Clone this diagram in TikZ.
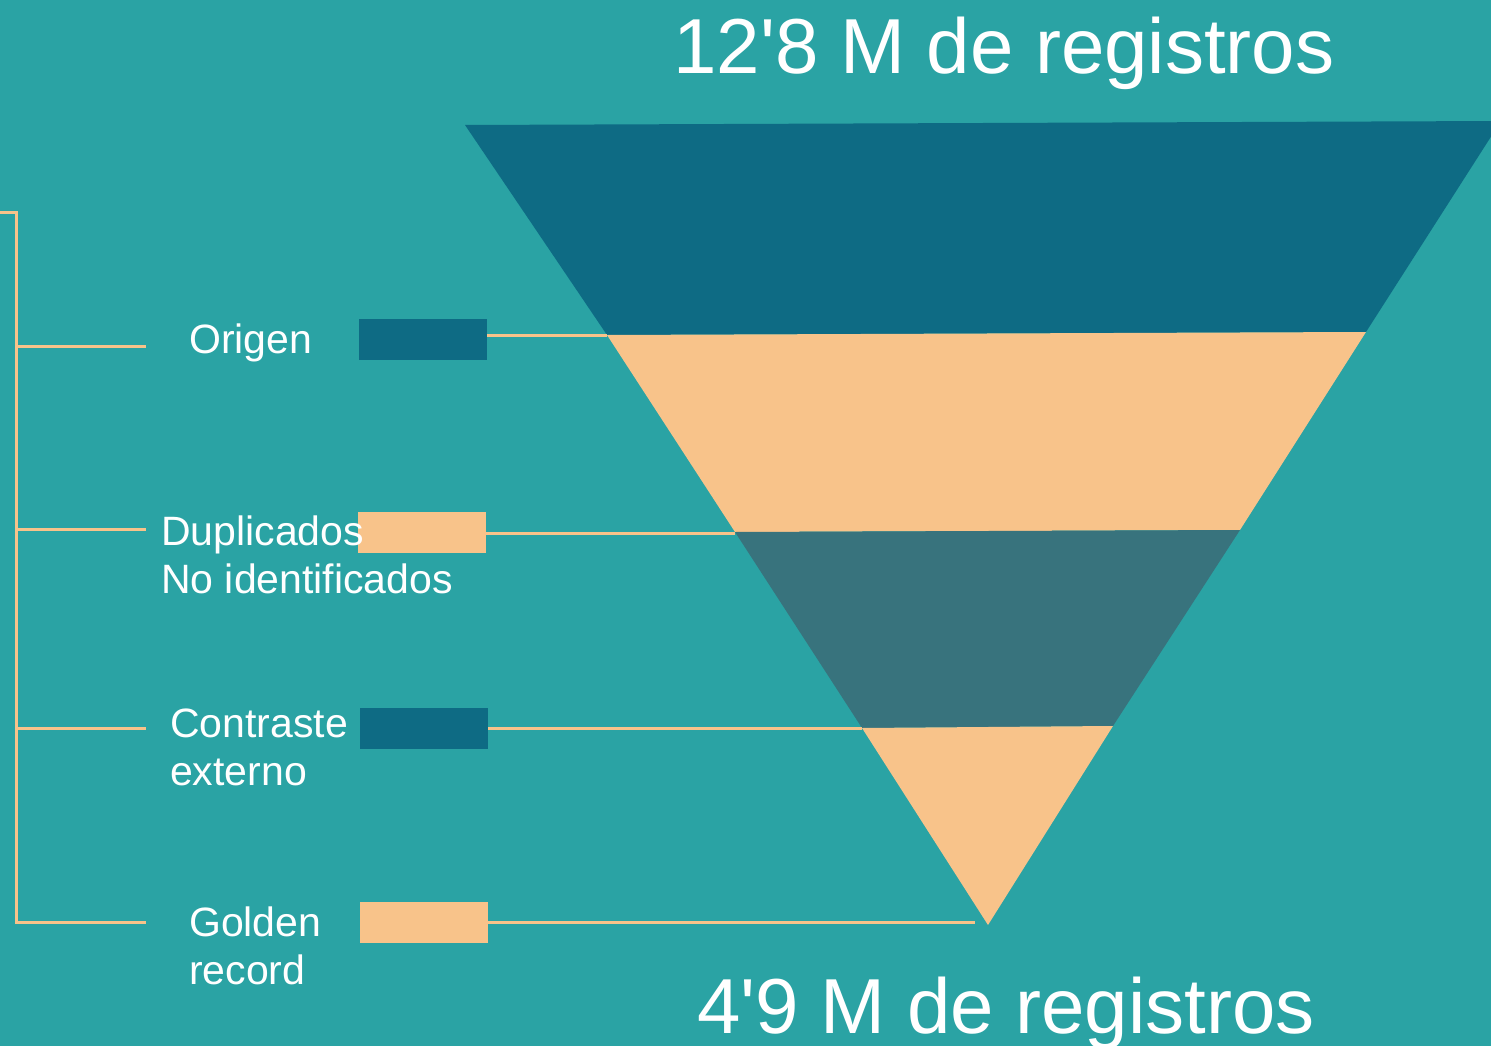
\documentclass[tikz,border=0pt]{standalone}
\usepackage{fontspec}
\setmainfont{Liberation Sans}
\definecolor{fondo}{HTML}{2AA3A4}
\definecolor{azul}{HTML}{0E6B84}
\definecolor{crema}{HTML}{F8C38A}
\definecolor{gris}{HTML}{38737D}
\tikzset{
  etiqueta/.style={text=white,font=\fontsize{41}{48}\selectfont,align=left,anchor=north west,inner sep=0pt},
  marca/.style={minimum width=128pt,minimum height=41pt,inner sep=0pt,anchor=north west},
  linea/.style={draw=crema,line width=3pt},
  titulo/.style={text=white,font=\fontsize{78}{90}\selectfont,inner sep=0pt,anchor=base}
}
\begin{document}
\begin{tikzpicture}[x=1pt,y=-1pt]
\useasboundingbox (0,0) rectangle (1491,1046);
\fill[fondo] (0,0) rectangle (1491,1046);
\begin{scope}
\clip (0,0) rectangle (1491,1046);
% embudo
\coordinate (L0) at (465,125); \coordinate (R0) at (1501,121);
\coordinate (L1) at (607,335); \coordinate (R1) at (1366,332);
\coordinate (L2) at (735,532); \coordinate (R2) at (1240,530);
\coordinate (L3) at (862,728); \coordinate (R3) at (1113,726);
\coordinate (A) at (988,925);
\fill[azul] (L0) -- (R0) -- (R1) -- (L1) -- cycle;
\fill[crema] (L1) -- (R1) -- (R2) -- (L2) -- cycle;
\fill[gris] (L2) -- (R2) -- (R3) -- (L3) -- cycle;
\fill[crema] (L3) -- (R3) -- (A) -- cycle;
\end{scope}
% titulos
\node[titulo] (arriba) at (1004,74) {12\textquotesingle 8 M de registros};
\node[titulo] (abajo) at (1006,1033) {4\textquotesingle 9 M de registros};
% marcas y etiquetas
\node[marca,fill=azul] (m1) at (359,319) {};
\node[marca,fill=crema] (m2) at (358,512) {};
\node[marca,fill=azul] (m3) at (360,708) {};
\node[marca,fill=crema] (m4) at (360,902) {};
\node[etiqueta] (origen) at (189,324) {Origen};
\node[etiqueta] (duplicados) at (161,516) {Duplicados\\No identificados};
\node[etiqueta] (contraste) at (170,709) {Contraste\\externo};
\node[etiqueta] (golden) at (189,907) {Golden\\record};
% lineas al embudo
\coordinate (b1) at (607,335);
\coordinate (b2) at (735,533);
\coordinate (b3) at (862,728);
\coordinate (b4) at (975,922);
\draw[linea] (m1.east |- b1) -- (b1);
\draw[linea] (m2.east |- b2) -- (b2);
\draw[linea] (m3.east |- b3) -- (b3);
\draw[linea] (m4.east |- b4) -- (b4);
% llave izquierda
\coordinate (k0) at (0,212);
\coordinate (k1) at (16,212);
\coordinate (k2) at (16,922);
\coordinate (t1) at (146,346);
\coordinate (t2) at (146,529);
\coordinate (t3) at (146,728);
\coordinate (t4) at (146,922);
\draw[linea] (k0) -- (k1) -- (k2) -- (t4);
\foreach \t in {t1,t2,t3}
  \draw[linea] (k1 |- \t) -- (\t);
\end{tikzpicture}
\end{document}
